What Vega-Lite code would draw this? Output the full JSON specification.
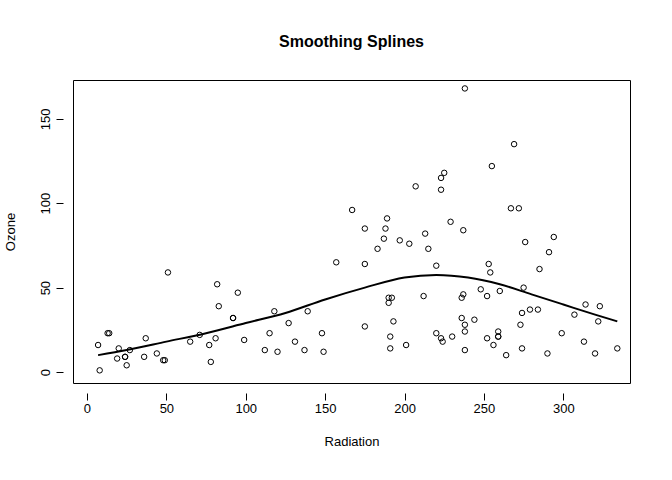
{"$schema":"https://vega.github.io/schema/vega-lite/v6.json","autosize":"none","width":557,"height":303,"padding":{"left":73,"top":80,"right":42,"bottom":97},"background":"white",
"title":{"text":"Smoothing Splines","fontSize":16,"fontWeight":"bold","font":"Liberation Sans","offset":30,"color":"black"},
"config":{"view":{"stroke":"black","strokeWidth":1},"axis":{"grid":false,"domain":false,"tickColor":"black","labelColor":"black","titleColor":"black","labelFont":"Liberation Sans","titleFont":"Liberation Sans","labelFontSize":13,"titleFontSize":13,"titleFontWeight":"normal","tickSize":7,"offset":10}},
"datasets":{"pts":[
{"r":190,"o":41},{"r":118,"o":36},{"r":149,"o":12},{"r":313,"o":18},{"r":299,"o":23},{"r":99,"o":19},{"r":19,"o":8},{"r":256,"o":16},{"r":290,"o":11},{"r":274,"o":14},{"r":65,"o":18},{"r":334,"o":14},{"r":307,"o":34},{"r":78,"o":6},{"r":322,"o":30},{"r":44,"o":11},{"r":8,"o":1},{"r":320,"o":11},{"r":25,"o":4},{"r":92,"o":32},{"r":13,"o":23},{"r":252,"o":45},{"r":223,"o":115},{"r":279,"o":37},{"r":127,"o":29},{"r":291,"o":71},{"r":323,"o":39},{"r":148,"o":23},{"r":191,"o":21},{"r":284,"o":37},{"r":37,"o":20},{"r":120,"o":12},{"r":137,"o":13},{"r":269,"o":135},{"r":248,"o":49},{"r":236,"o":32},{"r":175,"o":64},{"r":314,"o":40},{"r":276,"o":77},{"r":267,"o":97},{"r":272,"o":97},{"r":175,"o":85},{"r":264,"o":10},{"r":175,"o":27},{"r":48,"o":7},{"r":260,"o":48},{"r":274,"o":35},{"r":285,"o":61},{"r":187,"o":79},{"r":220,"o":63},{"r":7,"o":16},{"r":294,"o":80},{"r":223,"o":108},{"r":81,"o":20},{"r":82,"o":52},{"r":213,"o":82},{"r":275,"o":50},{"r":253,"o":64},{"r":254,"o":59},{"r":83,"o":39},{"r":24,"o":9},{"r":77,"o":16},{"r":255,"o":122},{"r":229,"o":89},{"r":207,"o":110},{"r":192,"o":44},{"r":273,"o":28},{"r":157,"o":65},{"r":71,"o":22},{"r":51,"o":59},{"r":115,"o":23},{"r":244,"o":31},{"r":190,"o":44},{"r":259,"o":21},{"r":36,"o":9},{"r":212,"o":45},{"r":238,"o":168},{"r":215,"o":73},{"r":203,"o":76},{"r":225,"o":118},{"r":237,"o":84},{"r":188,"o":85},{"r":167,"o":96},{"r":197,"o":78},{"r":183,"o":73},{"r":189,"o":91},{"r":95,"o":47},{"r":92,"o":32},{"r":252,"o":20},{"r":220,"o":23},{"r":230,"o":21},{"r":259,"o":24},{"r":236,"o":44},{"r":259,"o":21},{"r":238,"o":28},{"r":24,"o":9},{"r":112,"o":13},{"r":237,"o":46},{"r":224,"o":18},{"r":27,"o":13},{"r":238,"o":24},{"r":201,"o":16},{"r":238,"o":13},{"r":14,"o":23},{"r":139,"o":36},{"r":49,"o":7},{"r":20,"o":14},{"r":193,"o":30},{"r":191,"o":14},{"r":131,"o":18},{"r":223,"o":20}],
"fit":[{"r":7,"o":10},{"r":25,"o":13},{"r":50,"o":18},{"r":75,"o":23},{"r":100,"o":29},{"r":125,"o":35},{"r":150,"o":43},{"r":175,"o":50},{"r":200,"o":56},{"r":220,"o":57.5},{"r":240,"o":56},{"r":260,"o":52},{"r":280,"o":46},{"r":300,"o":40},{"r":320,"o":34},{"r":334,"o":30}]},
"layer":[
{"data":{"name":"pts"},"mark":{"type":"point","shape":"circle","size":30,"stroke":"black","strokeWidth":1,"opacity":1},
"encoding":{"x":{"field":"r","type":"quantitative","title":"Radiation","scale":{"domain":[-8.8,342],"nice":false,"zero":false},"axis":{"values":[0,50,100,150,200,250,300],"titlePadding":20}},
"y":{"field":"o","type":"quantitative","title":"Ozone","scale":{"domain":[-6.5,173],"nice":false,"zero":false},"axis":{"values":[0,50,100,150],"labelAngle":-90,"labelAlign":"center","labelBaseline":"bottom","labelPadding":4,"titlePadding":22}}}},
{"data":{"name":"fit"},"mark":{"type":"line","color":"black","strokeWidth":2,"interpolate":"monotone"},
"encoding":{"x":{"field":"r","type":"quantitative"},"y":{"field":"o","type":"quantitative"}}}]}
